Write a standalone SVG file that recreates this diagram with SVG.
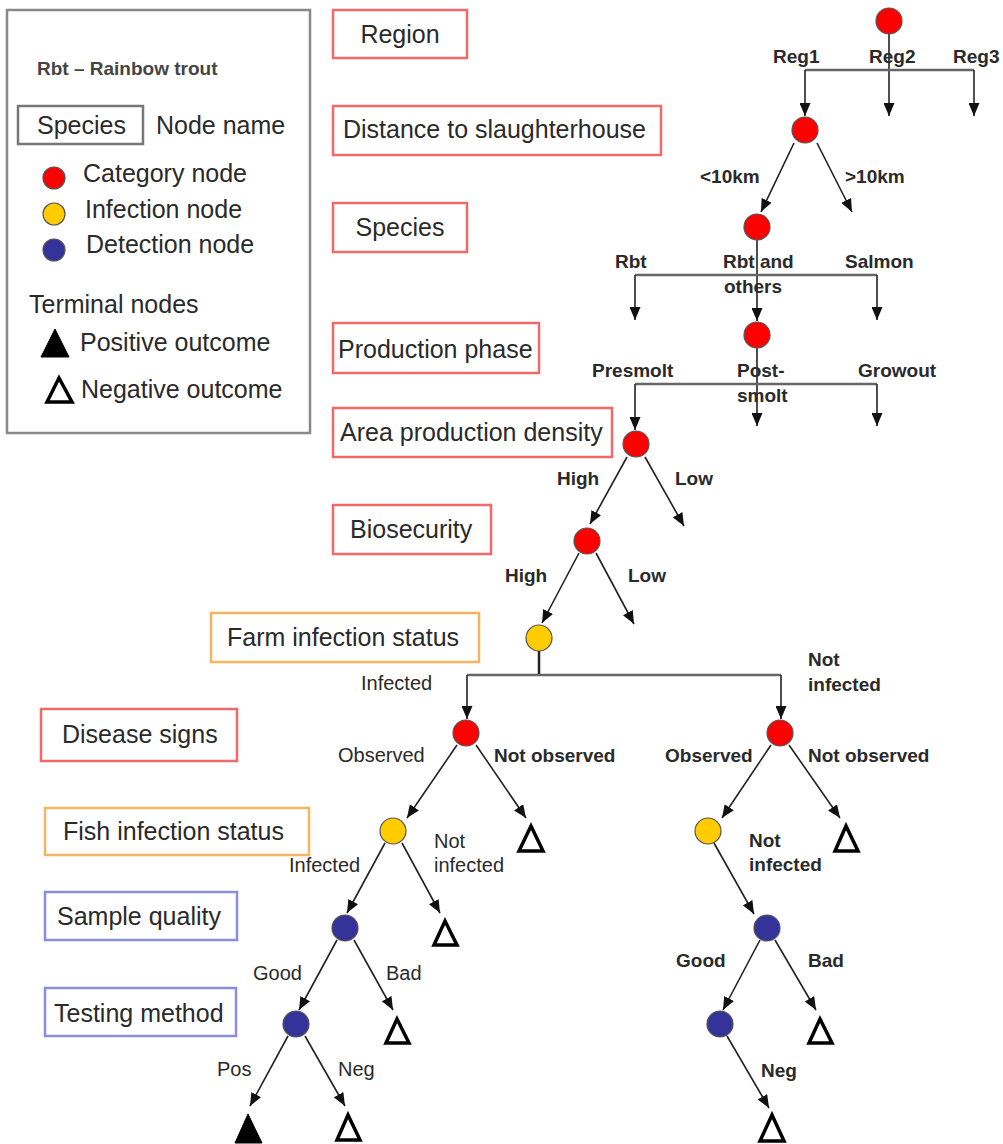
<svg xmlns="http://www.w3.org/2000/svg" width="1003" height="1144" viewBox="0 0 1003 1144">
<style>
text{font-family:"Liberation Sans",Arial,sans-serif;fill:#2a2a2a}
.nb{font-size:25px}
.lb{font-size:19px;font-weight:bold}
.lr{font-size:20px}
.bred{fill:#fff;stroke:#f06a6a;stroke-width:2.5}
.bora{fill:#fff;stroke:#f5b460;stroke-width:2.5}
.bblu{fill:#fff;stroke:#8c8ce0;stroke-width:2.5}
.cat{fill:#ff0000;stroke:#555;stroke-width:1.2}
.inf{fill:#ffcc00;stroke:#555;stroke-width:1.2}
.det{fill:#333399;stroke:#555;stroke-width:1.2}
.neg{fill:#fff;stroke:#000;stroke-width:3.5;stroke-linejoin:miter}
.pos{fill:#000;stroke:#000;stroke-width:1}
.ar{fill:none;stroke:#222;stroke-width:1.6;marker-end:url(#ah)}
.bar{fill:none;stroke:#666;stroke-width:2.5}
.ln{fill:none;stroke:#222;stroke-width:2.5}
</style>
<defs>
<marker id="ah" markerUnits="userSpaceOnUse" markerWidth="13" markerHeight="11" refX="13" refY="5.5" orient="auto">
<path d="M0,0 L13,5.5 L0,11 z" fill="#111"/>
</marker>
</defs>
<rect width="1003" height="1144" fill="#fff"/>

<g id="legend">
<rect x="7" y="10" width="303" height="423" fill="#fff" stroke="#888" stroke-width="2.5"/>
<text x="37" y="75" style="font-size:19px;font-weight:bold;fill:#444">Rbt – Rainbow trout</text>
<rect x="18" y="106" width="125" height="38" fill="#fff" stroke="#777" stroke-width="2.5"/>
<text x="37" y="134" class="nb">Species</text>
<text x="156" y="134" class="nb">Node name</text>
<circle cx="54" cy="178" r="11" class="cat"/>
<text x="83" y="182" class="nb">Category node</text>
<circle cx="54" cy="214" r="11" class="inf"/>
<text x="85" y="218" class="nb">Infection node</text>
<circle cx="54" cy="250" r="11" class="det"/>
<text x="86" y="253" class="nb">Detection node</text>
<text x="29" y="313" class="nb">Terminal nodes</text>
<path d="M41,357 L69,357 L55,329 z" class="pos"/>
<text x="80" y="351" class="nb">Positive outcome</text>
<path d="M47,402 L72,402 L59,378 z" class="neg"/>
<text x="81" y="398" class="nb">Negative outcome</text>
</g>

<g id="name-region"><rect x="333" y="10" width="134" height="48" class="bred"/><text x="400" y="43" class="nb" text-anchor="middle">Region</text></g>
<g id="name-distance"><rect x="333" y="106" width="328" height="49" class="bred"/><text x="343" y="138" class="nb">Distance to slaughterhouse</text></g>
<g id="name-species"><rect x="333" y="203" width="134" height="49" class="bred"/><text x="400" y="236" class="nb" text-anchor="middle">Species</text></g>
<g id="name-production"><rect x="333" y="323" width="206" height="50" class="bred"/><text x="338" y="358" class="nb">Production phase</text></g>
<g id="name-area"><rect x="333" y="408" width="279" height="49" class="bred"/><text x="340" y="441" class="nb">Area production density</text></g>
<g id="name-biosecurity"><rect x="333" y="505" width="158" height="49" class="bred"/><text x="350" y="538" class="nb">Biosecurity</text></g>
<g id="name-farm"><rect x="211" y="613" width="268" height="49" class="bora"/><text x="227" y="646" class="nb">Farm infection status</text></g>
<g id="name-disease"><rect x="41" y="709" width="196" height="52" class="bred"/><text x="62" y="743" class="nb">Disease signs</text></g>
<g id="name-fish"><rect x="45" y="808" width="264" height="47" class="bora"/><text x="63" y="840" class="nb">Fish infection status</text></g>
<g id="name-sample"><rect x="45" y="892" width="192" height="48" class="bblu"/><text x="57" y="925" class="nb">Sample quality</text></g>
<g id="name-testing"><rect x="45" y="988" width="191" height="48" class="bblu"/><text x="54" y="1022" class="nb">Testing method</text></g>

<g id="connectors">
<line x1="889" y1="34" x2="889" y2="116" class="ar"/>
<polyline points="805,70 974,70" class="bar"/>
<line x1="805" y1="70" x2="805" y2="116" class="ar"/>
<line x1="974" y1="70" x2="974" y2="116" class="ar"/>
<line x1="794" y1="143" x2="761" y2="212" class="ar"/>
<line x1="817" y1="143" x2="852" y2="212" class="ar"/>
<line x1="757" y1="240" x2="757" y2="321" class="ar"/>
<polyline points="635,275 877,275" class="bar"/>
<line x1="635" y1="275" x2="635" y2="320" class="ar"/>
<line x1="877" y1="275" x2="877" y2="320" class="ar"/>
<line x1="757" y1="348" x2="757" y2="426" class="ar"/>
<polyline points="635,384 877,384" class="bar"/>
<line x1="635" y1="384" x2="635" y2="430" class="ar"/>
<line x1="877" y1="384" x2="877" y2="426" class="ar"/>
<line x1="627" y1="457" x2="590" y2="524" class="ar"/>
<line x1="645" y1="457" x2="684" y2="526" class="ar"/>
<line x1="579" y1="553" x2="542" y2="623" class="ar"/>
<line x1="596" y1="553" x2="634" y2="624" class="ar"/>
<line x1="539" y1="651" x2="539" y2="675" class="ln"/>
<polyline points="467,675 781,675" class="bar"/>
<line x1="467" y1="675" x2="467" y2="719" class="ar"/>
<line x1="781" y1="675" x2="781" y2="719" class="ar"/>
<line x1="457" y1="745" x2="407" y2="818" class="ar"/>
<line x1="476" y1="745" x2="526" y2="818" class="ar"/>
<line x1="385" y1="843" x2="347" y2="913" class="ar"/>
<line x1="402" y1="843" x2="440" y2="913" class="ar"/>
<line x1="337" y1="940" x2="299" y2="1010" class="ar"/>
<line x1="354" y1="940" x2="393" y2="1010" class="ar"/>
<line x1="288" y1="1036" x2="250" y2="1106" class="ar"/>
<line x1="305" y1="1036" x2="345" y2="1106" class="ar"/>
<line x1="771" y1="745" x2="722" y2="818" class="ar"/>
<line x1="789" y1="745" x2="840" y2="818" class="ar"/>
<line x1="714" y1="843" x2="754" y2="914" class="ar"/>
<line x1="760" y1="940" x2="723" y2="1010" class="ar"/>
<line x1="775" y1="940" x2="816" y2="1010" class="ar"/>
<line x1="727" y1="1036" x2="769" y2="1108" class="ar"/>
</g>

<g id="labels">
<text x="773" y="63" class="lb">Reg1</text>
<text x="869" y="63" class="lb">Reg2</text>
<text x="953" y="63" class="lb">Reg3</text>
<text x="700" y="183" class="lb">&lt;10km</text>
<text x="845" y="183" class="lb">&gt;10km</text>
<text x="615" y="268" class="lb">Rbt</text>
<text x="723" y="268" class="lb">Rbt and</text>
<text x="724" y="293" class="lb">others</text>
<text x="845" y="268" class="lb">Salmon</text>
<text x="592" y="377" class="lb">Presmolt</text>
<text x="737" y="377" class="lb">Post-</text>
<text x="737" y="402" class="lb">smolt</text>
<text x="858" y="377" class="lb">Growout</text>
<text x="557" y="485" class="lb">High</text>
<text x="675" y="485" class="lb">Low</text>
<text x="505" y="582" class="lb">High</text>
<text x="628" y="582" class="lb">Low</text>
<text x="361" y="690" class="lr">Infected</text>
<text x="808" y="666" class="lb">Not</text>
<text x="808" y="691" class="lb">infected</text>
<text x="338" y="762" class="lr">Observed</text>
<text x="494" y="762" class="lb">Not observed</text>
<text x="289" y="872" class="lr">Infected</text>
<text x="434" y="848" class="lr">Not</text>
<text x="434" y="872" class="lr">infected</text>
<text x="253" y="980" class="lr">Good</text>
<text x="386" y="980" class="lr">Bad</text>
<text x="217" y="1076" class="lr">Pos</text>
<text x="338" y="1076" class="lr">Neg</text>
<text x="665" y="762" class="lb">Observed</text>
<text x="808" y="762" class="lb">Not observed</text>
<text x="749" y="847" class="lb">Not</text>
<text x="749" y="871" class="lb">infected</text>
<text x="676" y="967" class="lb">Good</text>
<text x="808" y="967" class="lb">Bad</text>
<text x="761" y="1077" class="lb">Neg</text>
</g>

<g id="node-region"><circle cx="889" cy="21" r="13" class="cat"/></g>
<g id="node-distance"><circle cx="805" cy="130" r="13" class="cat"/></g>
<g id="node-species"><circle cx="757" cy="227" r="13" class="cat"/></g>
<g id="node-production"><circle cx="757" cy="335" r="13" class="cat"/></g>
<g id="node-area"><circle cx="636" cy="444" r="13" class="cat"/></g>
<g id="node-biosecurity"><circle cx="587" cy="541" r="13" class="cat"/></g>
<g id="node-farm"><circle cx="539" cy="638" r="13" class="inf"/></g>
<g id="node-disease-l"><circle cx="466" cy="733" r="13" class="cat"/></g>
<g id="node-fish-l"><circle cx="393" cy="831" r="13" class="inf"/></g>
<g id="node-sample-l"><circle cx="345" cy="928" r="13" class="det"/></g>
<g id="node-testing-l"><circle cx="296" cy="1024" r="13" class="det"/></g>
<g id="node-disease-r"><circle cx="780" cy="733" r="13" class="cat"/></g>
<g id="node-fish-r"><circle cx="708" cy="831" r="13" class="inf"/></g>
<g id="node-sample-r"><circle cx="767" cy="928" r="13" class="det"/></g>
<g id="node-testing-r"><circle cx="720" cy="1024" r="13" class="det"/></g>

<g id="term-1"><path d="M519,851 L543,851 L531,826 z" class="neg"/></g>
<g id="term-2"><path d="M434,945 L457,945 L445,921 z" class="neg"/></g>
<g id="term-3"><path d="M386,1043 L409,1043 L397,1019 z" class="neg"/></g>
<g id="term-4"><path d="M235,1143 L262,1143 L248,1114 z" class="pos"/></g>
<g id="term-5"><path d="M337,1140 L360,1140 L348,1115 z" class="neg"/></g>
<g id="term-6"><path d="M835,851 L858,851 L846,826 z" class="neg"/></g>
<g id="term-7"><path d="M809,1043 L832,1043 L820,1019 z" class="neg"/></g>
<g id="term-8"><path d="M760,1141 L784,1141 L772,1115 z" class="neg"/></g>
</svg>
